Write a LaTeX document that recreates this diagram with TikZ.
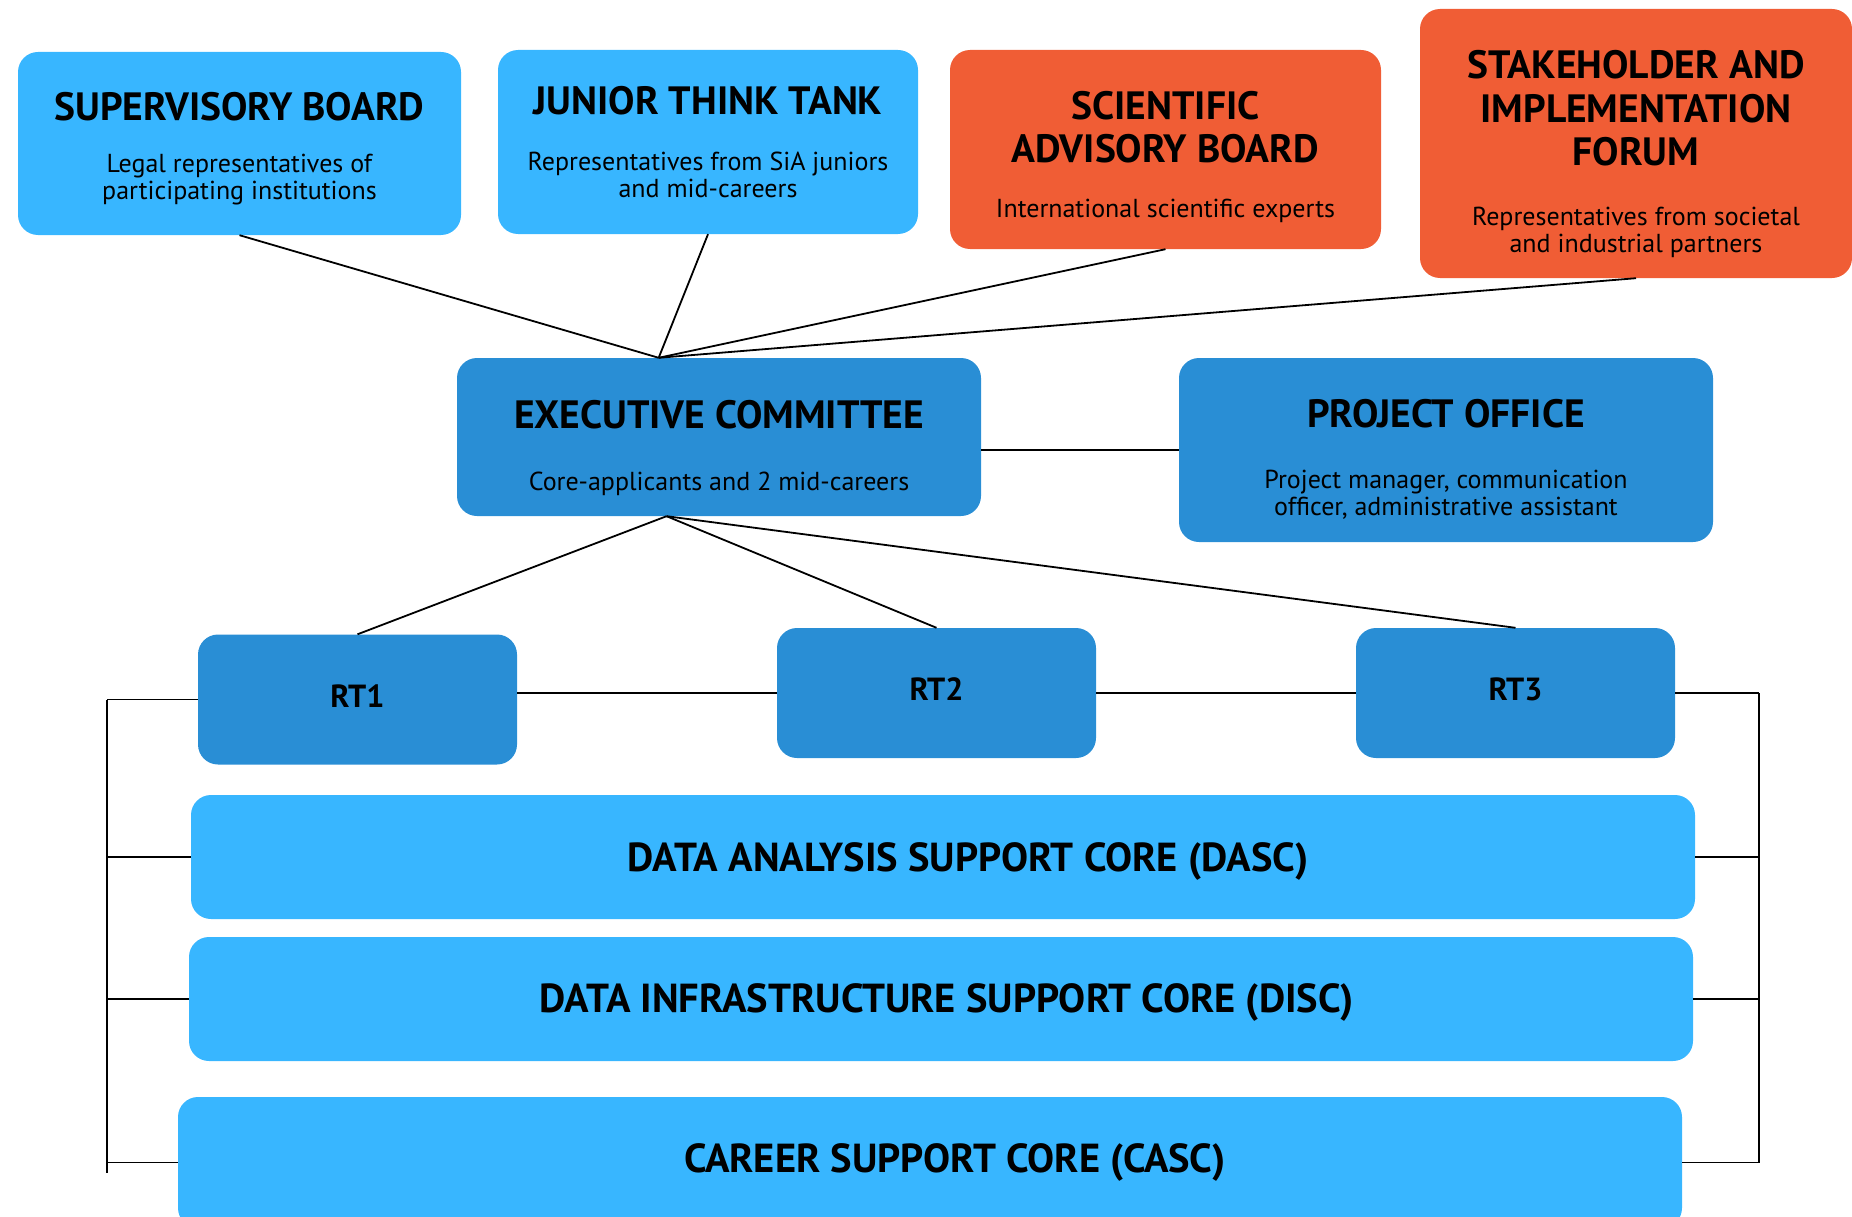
\documentclass[tikz,border=0pt]{standalone}
\usepackage{fontspec}
\setmainfont{PT Sans}
\usepackage{tikz}
\usetikzlibrary{calc}

\definecolor{skyblue}{HTML}{38B6FF}
\definecolor{midblue}{HTML}{298ED5}
\definecolor{coral}{HTML}{F05D35}

\newcommand{\boxtitle}[1]{{\fontsize{39.5}{43}\selectfont\bfseries #1}}

\tikzset{
	unit/.style={rounded corners=20pt, inner sep=0pt},
	caption/.style={inner sep=0pt, align=center, font=\fontsize{26}{27}\selectfont},
	core/.style={unit, fill=skyblue, minimum width=1504pt},
	corelabel/.style={inner sep=0pt, font=\fontsize{40.5}{43}\selectfont\bfseries},
	team/.style={unit, fill=midblue, minimum width=319pt, minimum height=130pt},
	teamlabel/.style={inner sep=0pt, yshift=3.5pt, font=\fontsize{32}{38}\selectfont\bfseries},
	link/.style={line width=1.8pt}
}

\begin{document}
\begin{tikzpicture}[x=1pt, y=-1pt]
	\useasboundingbox (0,0) rectangle (1852,1217);
	\clip (0,0) rectangle (1852,1217);

	% boards
	\node[unit, fill=skyblue, minimum width=443pt, minimum height=183pt,
		label={[caption, yshift=-5pt]center:{\boxtitle{SUPERVISORY BOARD}\\[25pt]Legal representatives of\\participating institutions}}] (sb) at (239.5,143.5) {};
	\node[unit, fill=skyblue, minimum width=420pt, minimum height=184pt,
		label={[caption]center:{\boxtitle{JUNIOR THINK TANK}\\[29.5pt]Representatives from SiA juniors\\and mid-careers}}] (jtt) at (708,142) {};
	\node[unit, fill=coral, minimum width=431pt, minimum height=199pt,
		label={[caption, yshift=-7.5pt]center:{\boxtitle{SCIENTIFIC}\\[13.5pt]\boxtitle{ADVISORY BOARD}\\[28.5pt]International scientific experts}}] (sab) at (1165.5,149.5) {};
	\node[unit, fill=coral, minimum width=432pt, minimum height=269pt,
		label={[caption, yshift=-10.5pt]center:{\boxtitle{STAKEHOLDER AND}\\[13.5pt]\boxtitle{IMPLEMENTATION}\\[13.5pt]\boxtitle{FORUM}\\[32.5pt]Representatives from societal\\and industrial partners}}] (sif) at (1636,143.5) {};

	% management
	\node[unit, fill=midblue, minimum width=524pt, minimum height=158pt,
		label={[caption, yshift=-11pt]center:{\boxtitle{EXECUTIVE COMMITTEE}\\[34.5pt]Core-applicants and 2 mid-careers}}] (ec) at (719,437) {};
	\node[unit, fill=midblue, minimum width=534pt, minimum height=184pt,
		label={[caption, yshift=-9.5pt]center:{\boxtitle{PROJECT OFFICE}\\[34.5pt]Project manager, communication\\officer, administrative assistant}}] (po) at (1446,450) {};

	% research themes
	\node[team, label={[teamlabel]center:RT1}] (rt1) at (357.5,699.5) {};
	\node[team, label={[teamlabel]center:RT2}] (rt2) at (936.5,693) {};
	\node[team, label={[teamlabel]center:RT3}] (rt3) at (1515.5,693) {};

	% support cores
	\node[core, minimum height=124pt,
		label={[corelabel, xshift=25pt, yshift=-4.5pt]center:DATA ANALYSIS SUPPORT CORE (DASC)}] (dasc) at (943,857) {};
	\node[core, minimum height=124pt,
		label={[corelabel, xshift=6pt, yshift=-3.5pt]center:DATA INFRASTRUCTURE SUPPORT CORE (DISC)}] (disc) at (941,999) {};
	\node[core, minimum height=131pt,
		label={[corelabel, xshift=25pt]center:CAREER SUPPORT CORE (CASC)}] (casc) at (930,1162.5) {};

	% lines into the executive committee
	\coordinate (top) at ($(ec.north west)!0.385!(ec.north east)$);
	\foreach \b in {sb,jtt,sab,sif}
		\draw[link] (\b.south) -- (top);
	\coordinate (base) at ($(ec.south west)!0.4!(ec.south east)$);
	\foreach \r in {rt1,rt2,rt3}
		\draw[link] (base) -- (\r.north);
	\draw[link] (ec.east |- po.west) -- (po.west);

	\draw[link] (rt1.east |- rt2.west) -- (rt2.west);
	\draw[link] (rt2.east) -- (rt3.west);

	% brackets on both sides
	\coordinate (lbar) at (107,699.5);
	\coordinate (lend) at (107,1173);
	\draw[link] (lbar) -- (lend);
	\foreach \c in {rt1,dasc,disc,casc}
		\draw[link] (\c.west -| lbar) -- (\c.west);
	\coordinate (rbar) at (1759,693);
	\coordinate (rend) at (1759,1163);
	\draw[link] (rbar) -- (rend);
	\foreach \c in {rt3,dasc,disc,casc}
		\draw[link] (\c.east) -- (\c.east -| rbar);
\end{tikzpicture}
\end{document}
